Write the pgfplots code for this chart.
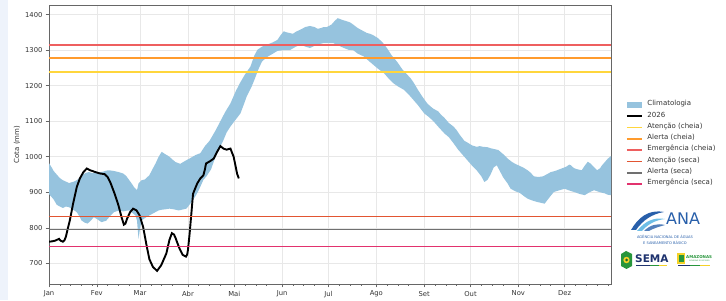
\documentclass[border=0pt]{standalone}
\usepackage{fontspec}
\setmainfont{DejaVu Sans}
\usepackage{pgfplots}
\pgfplotsset{compat=1.18}
\usepgfplotslibrary{fillbetween}
\definecolor{band}{RGB}{150,195,222}
\definecolor{atcheia}{RGB}{255,214,60}
\definecolor{alcheia}{RGB}{255,155,45}
\definecolor{emcheia}{RGB}{238,95,95}
\definecolor{atseca}{RGB}{226,85,50}
\definecolor{alseca}{RGB}{112,112,112}
\definecolor{emseca}{RGB}{226,50,110}
\definecolor{stripbg}{RGB}{238,243,251}
\definecolor{anablue}{RGB}{40,95,170}
\definecolor{analight}{RGB}{110,190,230}
\definecolor{semablue}{RGB}{30,50,110}
\definecolor{amgreen}{RGB}{40,150,60}
\definecolor{amyellow}{RGB}{245,210,40}
\definecolor{txt}{RGB}{50,50,50}
\begin{document}
\begin{tikzpicture}
\path (0pt,0pt) rectangle (726pt,300pt);
\fill[stripbg] (0pt,0pt) rectangle (8pt,300pt);
\begin{axis}[
  at={(49pt,16pt)}, anchor=south west,
  scale only axis, width=562pt, height=279pt,
  xmin=0, xmax=364, ymin=642, ymax=1427,
  xtick={0,31,59,90,120,151,181,212,243,273,304,334},
  xticklabels={Jan,Fev,Mar,Abr,Mai,Jun,Jul,Ago,Set,Out,Nov,Dez},
  minor xtick={7,14,21,28,38,45,52,66,73,80,97,104,111,127,134,141,158,165,172,188,195,202,219,226,233,250,257,264,280,287,294,311,318,325,341,348,355,362},
  ytick={700,800,900,1000,1100,1200,1300,1400},
  tick pos=left,
  tick align=outside,
  major tick length=3.5pt, minor tick length=2pt,
  grid=major, major grid style={black!9, line width=0.6pt},
  axis line style={black!60, line width=0.8pt},
  every tick/.style={black!60, line width=0.6pt},
  ticklabel style={font=\fontsize{6.8}{8}\selectfont, text=txt},
  /pgf/number format/assume math mode=true,
  yticklabel style={/pgf/number format/1000 sep={}, xshift=0.5pt},
  ylabel={Cota (mm)},
  ylabel style={font=\fontsize{7}{8}\selectfont, text=txt, at={(axis description cs:-0.057,0.5)}, anchor=center},
  legend image code/.code={\draw[#1] (0pt,0pt) -- (15pt,0pt);},
  legend style={at={(1.021,0.67)}, anchor=north west, draw=none, fill=none,
    font=\fontsize{7}{8}\selectfont, text=txt, row sep=0pt, column sep=3pt,
    nodes={inner xsep=1.5pt, inner ysep=0pt, text height=6.5pt, text depth=4.8pt}},
  legend cell align=left,
]
\addplot[name path=up, draw=none, forget plot] coordinates {
(0,982) (2,968) (3,960) (5,950) (7,940) (9,934) (11,930) (13,926) (16,930) (18,934) (20,942) (22,950) (24,955) (26,957) (28,954) (31,955) (33,957) (35,958) (37,961) (39,962) (42,960) (45,957) (48,953) (50,946) (52,934) (54,922) (55,915) (57,906) (58,925) (60,934) (62,936) (63,940) (65,948) (67,965) (69,981) (71,1000) (73,1014) (75,1008) (77,1003) (78,1000) (80,992) (82,985) (85,980) (88,988) (91,995) (93,1000) (95,1005) (98,1010) (101,1030) (104,1045) (106,1060) (108,1075) (111,1100) (114,1125) (117.5,1150) (119,1165) (121,1185) (124,1210) (127,1232) (130.5,1254) (133,1285) (135,1301) (138,1310) (141,1315) (145,1322) (148,1329) (150,1342) (152,1353) (154,1350) (156,1348) (158,1346) (160,1352) (163,1358) (166,1365) (169,1368) (172,1365) (174,1360) (176,1362) (178,1365) (180,1365) (183,1372) (185,1382) (187,1390) (190,1385) (193,1381) (195,1378) (197,1372) (200,1362) (203,1355) (206,1348) (208,1346) (210,1342) (213,1334) (216,1322) (219,1305) (222,1285) (224,1275) (226,1264) (229,1245) (232,1231) (234,1222) (236,1210) (239,1188) (242,1168) (245,1150) (247,1142) (249,1135) (252,1128) (254,1118) (256,1110) (259,1095) (262,1085) (264,1075) (266,1062) (269,1045) (271,1040) (274,1032) (277,1028) (279,1030) (281,1028) (284,1027) (286,1024) (288,1022) (291,1019) (294,1008) (297,995) (300,985) (302,980) (304,976) (307,970) (310,962) (312,955) (314,945) (317,943) (320,945) (323,952) (325,957) (327,959) (329,962) (332,967) (335,972) (337,978) (338,976) (340,968) (342,965) (345,962) (347,975) (349,986) (351,980) (352,975) (355,962) (357,968) (358,975) (360,985) (362,995) (364,1002)
};
\addplot[name path=lo, draw=none, forget plot] coordinates {
(0,895) (2,885) (3,880) (5,865) (7,860) (9,856) (11,860) (13,858) (16,850) (18,844) (20,830) (21,821) (23,815) (25,812) (27,820) (29,830) (31,825) (34,816) (37,820) (40,835) (42,844) (44,847) (46,849) (48,846) (50,848) (52,849) (54,842) (56,835) (57,820) (58,769) (59,800) (60,821) (63,830) (65,835) (68,842) (71,849) (73,851) (75,852) (78,854) (81,852) (84,849) (87,852) (89,854) (91,865) (93,877) (95,890) (97,906) (100,935) (102,945) (105,965) (107,990) (110,1020) (113,1047) (115,1068) (117.5,1085) (121,1105) (124,1122) (126,1145) (128,1169) (131,1195) (133,1216) (136,1250) (138,1268) (141,1280) (145,1290) (148,1298) (152,1300) (156,1300) (160,1310) (163,1315) (166,1310) (169,1306) (171,1310) (173,1315) (176,1318) (178,1320) (181,1320) (184,1320) (186,1316) (188,1312) (191,1306) (194,1301) (197,1300) (200,1290) (204,1282) (207,1270) (210,1259) (213,1248) (217,1235) (220,1220) (223,1207) (226,1198) (230,1188) (233,1175) (236,1160) (239,1145) (243,1122) (246,1112) (249,1100) (252,1085) (256,1066) (259,1055) (262,1038) (265,1020) (268,1005) (271,990) (274,975) (277,962) (280,945) (282,929) (284,935) (286,950) (288,970) (290,976) (292,960) (294,943) (297,925) (299,910) (302,903) (305,898) (308,888) (310,882) (313,877) (316,873) (319,870) (321,868) (324,885) (327,901) (330,905) (334,910) (337,905) (340,901) (344,895) (347,892) (350,900) (353,906) (357,900) (360,897) (362,893) (364,892)
};
\addplot[fill=band, draw=none, legend image code/.code={\fill[band] (0pt,-3pt) rectangle (15pt,3pt);}] fill between[of=up and lo];
\addlegendentry{Climatologia}
\addplot[black, line width=1.9pt] coordinates {
(0,761) (2,762) (4,764) (5.5,767) (6.5,769) (7.5,764) (9,761) (10,765) (11,776) (12,795) (13.5,821) (15.6,868) (18,915) (20,939) (22.3,957) (24.5,967) (26.6,962) (28,960) (30,957) (33,953) (36,951) (38,943) (40,925) (42.5,896) (45,863) (47,830) (48.5,809) (49.5,812) (50.6,826) (52.5,844) (54.5,854) (56.7,849) (58.7,835) (61,802) (63,755) (65,712) (67.3,690) (70,679) (72.7,695) (76,728) (78,766) (79.6,785) (81,781) (82,771) (84.4,743) (86.6,724) (88.7,719) (89.5,725) (90,738) (91,780) (92,830) (93.3,896) (96,925) (98,939) (100,948) (101,965) (101.7,981) (104.5,988) (106.7,995) (108.9,1014) (111,1030) (113,1023) (115,1020) (117.5,1023) (119.6,1000) (121.8,953) (122.9,939)
};
\addlegendentry{2026}
\addplot[color=atcheia, line width=1.6pt] coordinates {(0,1239) (364,1239)};
\addlegendentry{Atenção (cheia)}
\addplot[color=alcheia, line width=1.6pt] coordinates {(0,1278) (364,1278)};
\addlegendentry{Alerta (cheia)}
\addplot[color=emcheia, line width=1.6pt] coordinates {(0,1315) (364,1315)};
\addlegendentry{Emergência (cheia)}
\addplot[color=atseca, line width=1.6pt] coordinates {(0,832) (364,832)};
\addlegendentry{Atenção (seca)}
\addplot[color=alseca, line width=1.6pt] coordinates {(0,795) (364,795)};
\addlegendentry{Alerta (seca)}
\addplot[color=emseca, line width=1.6pt] coordinates {(0,748) (364,748)};
\addlegendentry{Emergência (seca)}
\end{axis}
\begin{scope}[x=1pt,y=1pt]
% ANA logo
\fill[anablue] (631,70) .. controls (638,82) and (648,91) .. (664,88) .. controls (652,86) and (643,80) .. (636,70) -- cycle;
\fill[analight] (637,69) .. controls (645,79) and (654,83) .. (665,81) .. controls (655,80) and (647,75) .. (642,69) -- cycle;
\fill[anablue!80] (644,69) .. controls (650,75) and (657,77) .. (665,75) .. controls (658,73) and (652,71) .. (649,69) -- cycle;
\node[anchor=west, inner sep=0pt, text=anablue, font=\fontsize{16}{16}\selectfont] at (666,81) {ANA};
\node[inner sep=0pt, text=anablue, font=\fontsize{3.6}{4}\selectfont] at (665,63) {AGÊNCIA NACIONAL DE ÁGUAS};
\node[inner sep=0pt, text=anablue, font=\fontsize{3.6}{4}\selectfont] at (665,57.5) {E SANEAMENTO BÁSICO};
% SEMA
\fill[amgreen] (621,34) -- (621,46) -- (626,49) -- (632,46) -- (632,34) -- (626.5,31) -- cycle;
\fill[amyellow] (626.5,40) circle (3.2);
\fill[amgreen!70!black] (626.5,40) circle (1.5);
\node[anchor=west, inner sep=0pt, text=semablue, font=\bfseries\fontsize{10.5}{11}\selectfont] at (635,41.5) {SEMA};
\fill[semablue] (636,33.5) rectangle (650,34.5);
\fill[amgreen] (650,33.5) rectangle (659,34.5);
\fill[amyellow] (659,33.5) rectangle (667,34.5);
% Amazonas
\fill[amyellow] (677,36) rectangle (685,47);
\fill[amgreen] (678.5,38) rectangle (683.5,45);
\node[anchor=west, inner sep=0pt, text=amgreen, font=\bfseries\fontsize{4}{4}\selectfont] at (686,43) {AMAZONAS};
\node[anchor=west, inner sep=0pt, text=amgreen, font=\fontsize{1.8}{2}\selectfont] at (689,39) {GOVERNO DO ESTADO};
\fill[semablue] (678,33.5) rectangle (690,34.5);
\fill[amgreen] (690,33.5) rectangle (700,34.5);
\fill[amyellow] (700,33.5) rectangle (710,34.5);
\end{scope}
\end{tikzpicture}
\end{document}
